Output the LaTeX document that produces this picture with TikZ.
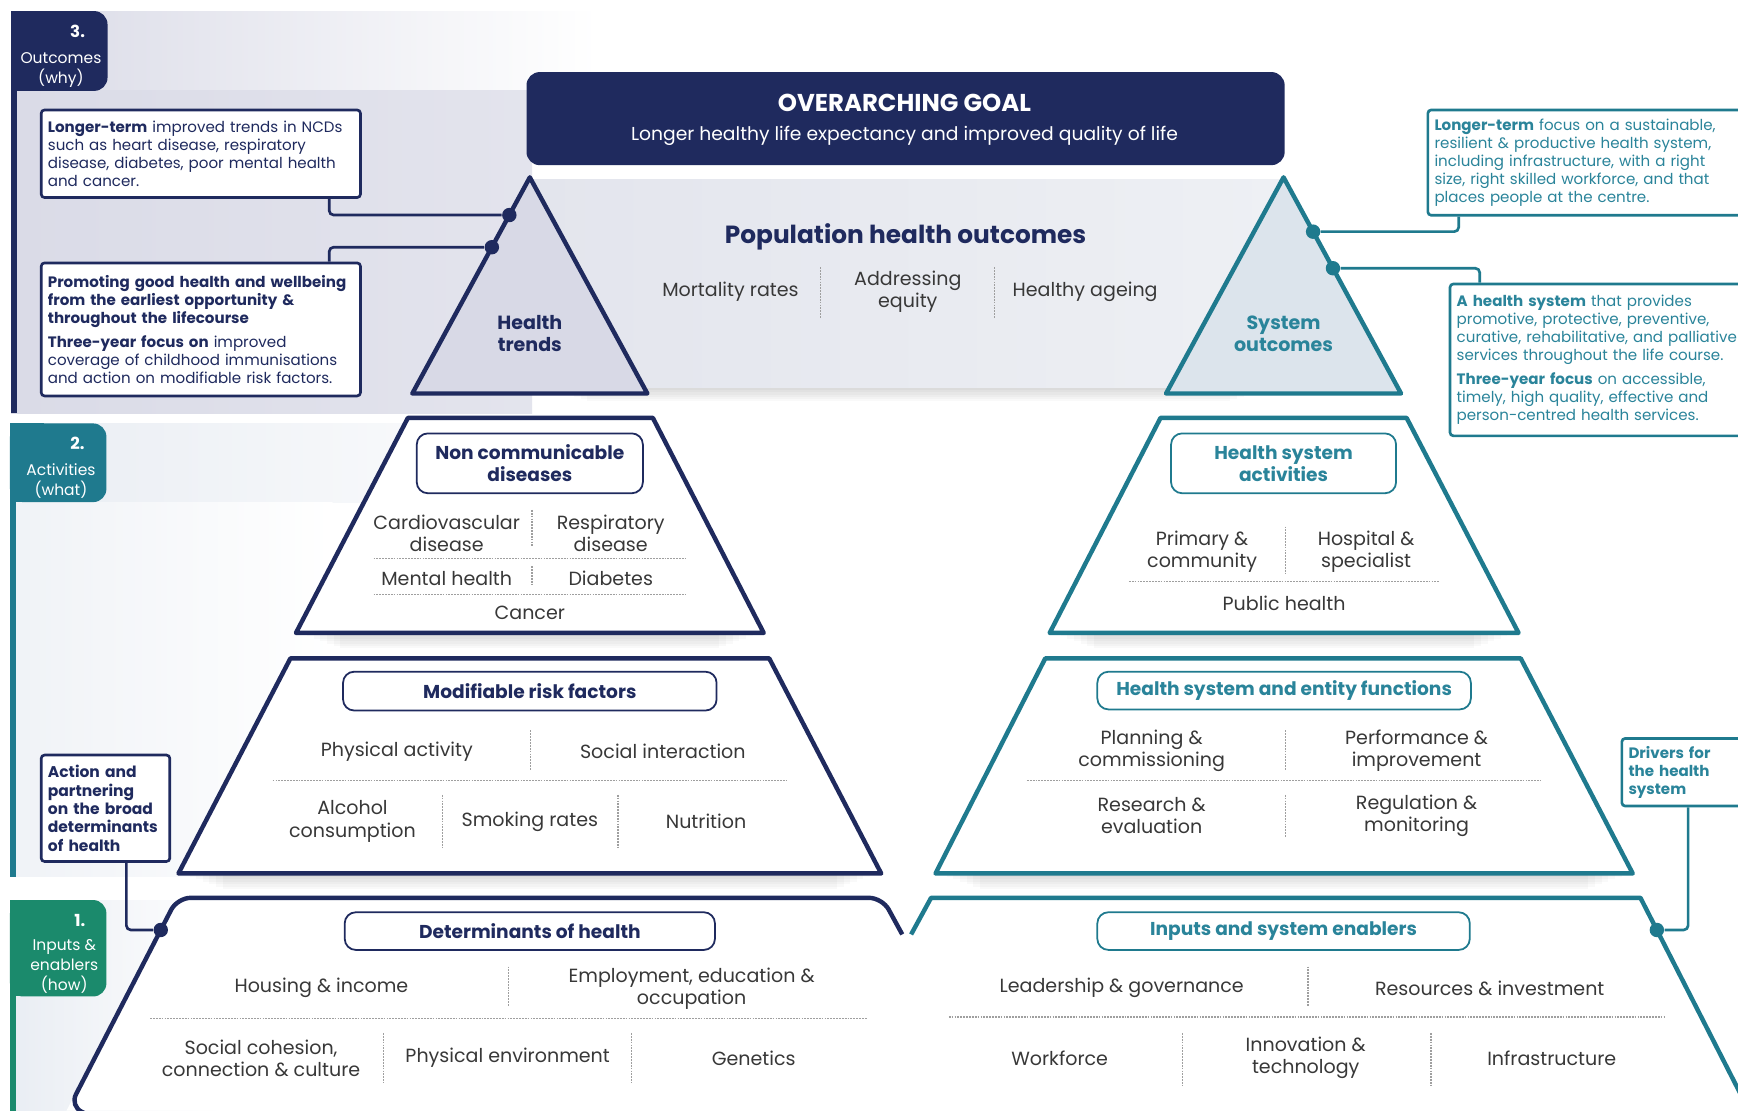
\documentclass[tikz,border=0pt]{standalone}
\usepackage{fontspec}
\setmainfont{Poppins}
\usetikzlibrary{calc}
\definecolor{navy}{HTML}{1F2A5E}
\definecolor{tealC}{HTML}{1F7A8E}
\definecolor{tealtxt}{HTML}{2A849A}
\definecolor{greenT}{HTML}{1B8A6C}
\definecolor{txt}{HTML}{383838}
\definecolor{lav}{HTML}{DADBE7}
\definecolor{triL}{HTML}{D8D9E6}
\definecolor{triR}{HTML}{DCE4EC}
\definecolor{popA}{HTML}{E3E5ED}
\definecolor{popB}{HTML}{EEF0F4}
\definecolor{bgB}{HTML}{E9EDF3}
\tikzset{
  shapeN/.style={draw=navy, line width=2pt, line join=round, fill=white},
  shapeT/.style={draw=tealC, line width=2pt, line join=round, fill=white},
  titleN/.style={draw=navy, line width=0.8pt, rounded corners=5pt, fill=white, text=navy, font=\bfseries\fontsize{8.4}{10}\selectfont, align=center, inner sep=0pt},
  titleT/.style={draw=tealC, line width=0.8pt, rounded corners=5pt, fill=white, text=tealtxt, font=\bfseries\fontsize{8.4}{10}\selectfont, align=center, inner sep=0pt},
  itm/.style={text=txt, font=\fontsize{8.6}{10}\selectfont, align=center, inner sep=0pt},
  sepl/.style={draw=gray!75, line width=0.5pt, dash pattern=on 0.8pt off 0.5pt},
  callN/.style={draw=navy, line width=1.2pt, fill=white, rounded corners=1.5pt, text=navy, font=\fontsize{6.8}{8.2}\selectfont, align=left, anchor=north west, inner xsep=3pt, inner ysep=0pt},
  callT/.style={draw=tealC, line width=1.2pt, fill=white, rounded corners=1.5pt, text=tealtxt, font=\fontsize{6.8}{8.2}\selectfont, align=left, anchor=north west, inner xsep=3pt, inner ysep=0pt},
  conN/.style={draw=navy, line width=1.2pt, rounded corners=2pt},
  conT/.style={draw=tealC, line width=1.2pt, rounded corners=2pt},
  dotN/.style={circle, fill=navy, minimum size=6.5pt, inner sep=0pt},
  dotT/.style={circle, fill=tealC, minimum size=6.5pt, inner sep=0pt},
  tabtxt/.style={text=white, font=\fontsize{7}{9}\selectfont, align=center, inner sep=0pt},
  tabnum/.style={text=white, font=\bfseries\fontsize{7.5}{9}\selectfont, inner sep=0pt},
  trilabN/.style={text=navy, font=\bfseries\fontsize{8.6}{10}\selectfont, align=center, inner sep=0pt},
  trilabT/.style={text=tealtxt, font=\bfseries\fontsize{8.6}{10}\selectfont, align=center, inner sep=0pt},
  shad/.style={fill=black, opacity=0.022}
}
\begin{document}
\begin{tikzpicture}[x=0.5pt,y=-0.5pt]
\useasboundingbox (0,0) rectangle (1568,1002);
\clip (0,0) rectangle (1568,1002);
\fill[white] (0,0) rectangle (1568,1002);

% ---------- band backgrounds ----------
\shade[left color=lav, right color=white] (10,10) rectangle (540,82);
\shade[left color=lav, right color=lav!75!white] (10,82) rectangle (480,373);
\shade[left color=bgB, right color=white] (10,382) rectangle (560,453);
\shade[left color=bgB!70!white, right color=white] (10,453) rectangle (300,791);
\shade[left color=bgB, right color=white] (10,812) rectangle (200,1002);

% ---------- tabs and bars ----------
\fill[navy, rounded corners=6pt] (10,10) rectangle (97,82);
\fill[navy] (10,10) rectangle (40,82);
\fill[navy] (10,60) rectangle (15,373);
\fill[tealC, rounded corners=6pt] (9,382) rectangle (96,453);
\fill[tealC] (9,382) rectangle (40,453);
\fill[tealC] (9,430) rectangle (14,791);
\fill[greenT, rounded corners=6pt] (9,812) rectangle (96,899);
\fill[greenT] (9,812) rectangle (40,899);
\fill[greenT] (9,860) rectangle (14,1002);
\node[tabnum] (n3) at (70,28) {3.};
\node[tabtxt] (t3) at (55,63) {Outcomes\\(why)};
\node[tabnum] (n2) at (70,400) {2.};
\node[tabtxt] (t2) at (55,434) {Activities\\(what)};
\node[tabnum] (n1) at (72,830) {1.};
\node[tabtxt] (t1) at (58,872) {Inputs \&\\enablers\\(how)};

% ---------- overarching goal ----------
\node[fill=navy, rounded corners=6pt, minimum width=342pt, minimum height=42pt, inner sep=0pt] (goal) at (817,107) {};
\node[text=white, font=\bfseries\fontsize{11}{13}\selectfont, inner sep=0pt] (goalT) at (816,93) {OVERARCHING GOAL};
\node[text=white, font=\fontsize{8.45}{10}\selectfont, inner sep=0pt] (goalS) at (816,123) {Longer healthy life expectancy and improved quality of life};

% ---------- population band ----------
\foreach \i in {0,...,5}{\fill[shad] (500+6*\i,350) rectangle (1140-6*\i,352+2*\i);}
\shade[left color=popA, right color=popB] (478,162) rectangle (1160,350);
\node[text=navy, font=\bfseries\fontsize{11.2}{13}\selectfont, inner sep=0pt] (pop) at (817,214) {Population health outcomes};
\node[itm] (mort) at (659,263.5) {Mortality rates};
\node[itm] (equ) at (819,263.5) {Addressing\\equity};
\node[itm] (age) at (979,263.5) {Healthy ageing};
\draw[sepl] (740,241) -- (740,287);
\draw[sepl] (897,241) -- (897,287);

% ---------- top triangles ----------
\coordinate (THa) at (478,160); \coordinate (THl) at (372,355); \coordinate (THr) at (584,355);
\coordinate (TSa) at (1158,160); \coordinate (TSl) at (1052,355); \coordinate (TSr) at (1264,355);
\draw[shapeN, fill=triL] (THa) -- (THr) -- (THl) -- cycle;
\draw[shapeT, fill=triR] (TSa) -- (TSr) -- (TSl) -- cycle;
\node[trilabN] (ht) at (478,301) {Health\\trends};
\node[trilabT] (so) at (1158,301) {System\\outcomes};

% ---------- shadows under trapezoids ----------
\foreach \xa/\xb/\yb in {267/689/571, 161/795/788, 947/1370/571, 844/1473/788}{
  \foreach \i in {0,...,5}{\fill[shad] (\xa+10+6*\i,\yb) rectangle (\xb-10-6*\i,\yb+3+2.2*\i);}
}

% ---------- left pyramid ----------
\draw[shapeN] (368,377) -- (589,377) -- (689,571) -- (267,571) -- cycle;
\node[titleN, minimum width=102pt, minimum height=27pt] (ncd) at (478,418) {Non communicable\\diseases};
\node[itm] (cvd) at (403,481) {Cardiovascular\\disease};
\node[itm] (resp) at (551,481) {Respiratory\\disease};
\draw[sepl] (480,460) -- (480,493);
\draw[sepl] (337,504) -- (619,504);
\node[itm] (mh) at (403,521.5) {Mental health};
\node[itm] (diab) at (551,521.5) {Diabetes};
\draw[sepl] (480,511) -- (480,529);
\draw[sepl] (337,536) -- (619,536);
\node[itm] (canc) at (478,553) {Cancer};

\draw[shapeN] (262,594) -- (694,594) -- (795,788) -- (161,788) -- cycle;
\node[titleN, minimum width=168.5pt, minimum height=17.5pt] (mrf) at (478,623.5) {Modifiable risk factors};
\node[itm] (phys) at (358,678) {Physical activity};
\node[itm] (soc) at (598,678) {Social interaction};
\draw[sepl] (479,659) -- (479,695);
\draw[sepl] (246,704) -- (710,704);
\node[itm] (alc) at (318,741) {Alcohol\\consumption};
\node[itm] (smk) at (478,741) {Smoking rates};
\node[itm] (nut) at (637,741) {Nutrition};
\draw[sepl] (399,717) -- (399,764);
\draw[sepl] (557.5,717) -- (557.5,764);

% determinants
\fill[white] (160,810) -- (796,810) -- (814,843) -- (814,1002) -- (60,1002) -- cycle;
\draw[shapeN, fill=none, rounded corners=6pt] (814,843) -- (796,810) -- (160,810) -- (63,998) -- (80,1006);
\node[titleN, minimum width=167pt, minimum height=17pt] (det) at (478,840) {Determinants of health};
\node[itm] (hous) at (290,891.5) {Housing \& income};
\node[itm] (emp) at (624,892) {Employment, education \&\\occupation};
\draw[sepl] (459,872) -- (459,908);
\draw[sepl] (135.5,918.5) -- (782,918.5);
\node[itm] (cohe) at (235.5,954.5) {Social cohesion,\\connection \& culture};
\node[itm] (penv) at (458,954.5) {Physical environment};
\node[itm] (gene) at (680,954.5) {Genetics};
\draw[sepl] (346,932) -- (346,977);
\draw[sepl] (570,932) -- (570,977);

% ---------- right pyramid ----------
\draw[shapeT] (1047,377) -- (1269,377) -- (1370,571) -- (947,571) -- cycle;
\node[titleT, minimum width=101.5pt, minimum height=27pt] (hsa) at (1158,418) {Health system\\activities};
\node[itm] (prim) at (1084.5,498) {Primary \&\\community};
\node[itm] (hosp) at (1232.5,498) {Hospital \&\\specialist};
\draw[sepl] (1159.5,475) -- (1159.5,517);
\draw[sepl] (1018.5,525) -- (1298,525);
\node[itm] (pubh) at (1158.5,544) {Public health};

\draw[shapeT] (943,594) -- (1372,594) -- (1473,788) -- (844,788) -- cycle;
\node[titleT, minimum width=168.5pt, minimum height=17pt] (hsf) at (1158.5,623) {Health system and entity functions};
\node[itm] (plan) at (1039,677) {Planning \&\\commissioning};
\node[itm] (perf) at (1278,677) {Performance \&\\improvement};
\draw[sepl] (1159.5,659) -- (1159.5,695);
\draw[sepl] (926.5,704) -- (1390,704);
\node[itm] (rese) at (1039,736) {Research \&\\evaluation};
\node[itm] (regu) at (1278,736) {Regulation \&\\monitoring};
\draw[sepl] (1159.5,717) -- (1159.5,755);

% inputs
\fill[white] (840,810) -- (1480,810) -- (1578,1002) -- (822,1002) -- (822,843) -- cycle;
\draw[shapeT, fill=none] (822,843) -- (840,810) -- (1480,810) -- (1580,1006);
\node[titleT, minimum width=168pt, minimum height=17pt] (inp) at (1158,840) {Inputs and system enablers};
\node[itm] (lead) at (1012,891.5) {Leadership \& governance};
\node[itm] (reso) at (1344,891.5) {Resources \& investment};
\draw[sepl] (1180,872) -- (1180,908);
\draw[sepl] (856,917.5) -- (1503,917.5);
\node[itm] (work) at (956,954.5) {Workforce};
\node[itm] (inno) at (1178,954.5) {Innovation \&\\technology};
\node[itm] (infr) at (1400,954.5) {Infrastructure};
\draw[sepl] (1067,932) -- (1067,979);
\draw[sepl] (1291,932) -- (1291,979);

% ---------- callouts ----------
\node[callN, minimum width=144pt, text width=138pt, minimum height=39.5pt] (cL1) at (36,98)
 {\textbf{Longer-term} improved trends in NCDs\\such as heart disease, respiratory\\disease, diabetes, poor mental health\\and cancer.};
\node[callN, minimum width=144pt, text width=138pt, minimum height=60pt] (cL2) at (36,236)
 {\textbf{Promoting good health and wellbeing}\\\textbf{from the earliest opportunity \&}\\\textbf{throughout the lifecourse}\\[2.5pt]\textbf{Three-year focus on} improved\\coverage of childhood immunisations\\and action on modifiable risk factors.};
\node[callN, minimum width=56.5pt, text width=52pt, minimum height=48pt, font=\bfseries\fontsize{7}{8.3}\selectfont] (cA) at (36,680)
 {Action and\\partnering\\on the broad\\determinants\\of health};
\node[callT, minimum width=175pt, text width=169pt, minimum height=47.5pt] (cR1) at (1287,98)
 {\textbf{Longer-term} focus on a sustainable,\\resilient \& productive health system,\\including infrastructure, with a right\\size, right skilled workforce, and that\\places people at the centre.};
\node[callT, minimum width=165pt, text width=159pt, minimum height=68.5pt] (cR2) at (1307,255)
 {\textbf{A health system} that provides\\promotive, protective, preventive,\\curative, rehabilitative, and palliative\\services throughout the life course.\\[2.5pt]\textbf{Three-year focus} on accessible,\\timely, high quality, effective and\\person-centred health services.};
\node[callT, minimum width=70pt, text width=65pt, minimum height=30.5pt, font=\bfseries\fontsize{6.8}{8.2}\selectfont] (cD) at (1462,665)
 {Drivers for\\the health\\system};

% ---------- dots and connectors ----------
\node[dotN] (dL1) at ($(THa)!{(194-160)/195}!(THl)$) {};
\node[dotN] (dL2) at ($(THa)!{(223-160)/195}!(THl)$) {};
\node[dotT] (dR1) at ($(TSa)!{(209-160)/195}!(TSr)$) {};
\node[dotT] (dR2) at ($(TSa)!{(242-160)/195}!(TSr)$) {};
\node[dotN] (dA) at ($(160,810)!{(839-810)/188}!(63,998)$) {};
\node[dotT] (dD) at ($(1480,810)!{(839-810)/196}!(1580,1006)$) {};
\coordinate (k1) at (297,194);
\coordinate (k2) at (297,223);
\coordinate (k3) at (1316,209);
\coordinate (k4) at (1335,242);
\coordinate (kA) at (114,839);
\coordinate (kD) at (1523,839);
\draw[conN] (cL1.south -| k1) -- (k1) -- (dL1);
\draw[conN] (cL2.north -| k2) -- (k2) -- (dL2);
\draw[conT] (cR1.south -| k3) -- (k3) -- (dR1);
\draw[conT] (cR2.north -| k4) -- (k4) -- (dR2);
\draw[conN] (cA.south -| kA) -- (kA) -- (dA);
\draw[conT] (cD.south -| kD) -- (kD) -- (dD);
\end{tikzpicture}
\end{document}
